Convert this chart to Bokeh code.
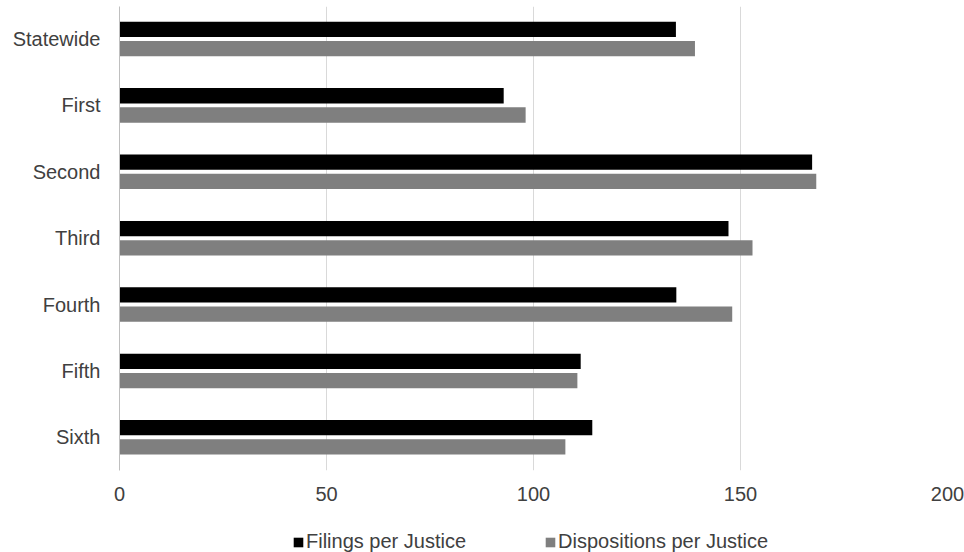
from bokeh.plotting import figure
from bokeh.layouts import column
from bokeh.models import Range1d, FixedTicker, Legend, LegendItem, ColumnDataSource
from bokeh.transform import dodge
from bokeh.embed import file_html
from bokeh.resources import INLINE

categories = ["Statewide", "First", "Second", "Third", "Fourth", "Fifth", "Sixth"]
filings = [134.4, 92.8, 167.3, 147.1, 134.5, 111.4, 114.2]
dispositions = [139.0, 98.1, 168.3, 152.9, 148.0, 110.6, 107.7]
x_ticks = [0, 50, 100, 150, 200]
series_names = ["Filings per Justice", "Dispositions per Justice"]
series_colors = ["#000000", "#7f7f7f"]

FONT = "Liberation Sans"
TEXT = "#404040"

idx = list(range(len(categories)))
src = ColumnDataSource(dict(y=idx, filings=filings, dispositions=dispositions))

fig = figure(width=964, height=515, output_backend="svg", toolbar_location=None,
             x_range=Range1d(0, 200), y_range=Range1d(6.5, -0.49),
             min_border_left=119, min_border_right=17, min_border_top=6,
             min_border_bottom=45)
fig.outline_line_color = None
fig.background_fill_color = "white"
fig.border_fill_color = "white"

bh = 0.231
off = 0.145
fig.hbar(y=dodge('y', -off, range=fig.y_range), left=0, right='filings', height=bh,
         source=src, fill_color=series_colors[0], line_color=None)
fig.hbar(y=dodge('y', off, range=fig.y_range), left=0, right='dispositions', height=bh,
         source=src, fill_color=series_colors[1], line_color=None)

xa = fig.xaxis[0]
xa.ticker = FixedTicker(ticks=x_ticks)
xa.axis_line_color = None
xa.major_tick_line_color = None
xa.minor_tick_line_color = None
xa.major_tick_out = 0
xa.major_tick_in = 0
xa.minor_tick_out = 0
xa.major_label_standoff = 16
xa.major_label_text_font = FONT
xa.major_label_text_font_size = "20px"
xa.major_label_text_color = TEXT

ya = fig.yaxis[0]
ya.ticker = FixedTicker(ticks=idx)
ya.major_label_overrides = {i: c for i, c in zip(idx, categories)}
ya.axis_line_color = "#bfbfbf"
ya.major_tick_line_color = None
ya.minor_tick_line_color = None
ya.major_tick_out = 0
ya.major_tick_in = 0
ya.minor_tick_out = 0
ya.major_label_standoff = 19
ya.major_label_text_font = FONT
ya.major_label_text_font_size = "20px"
ya.major_label_text_color = TEXT

fig.ygrid.grid_line_color = None
fig.xgrid.ticker = FixedTicker(ticks=x_ticks)
fig.xgrid.grid_line_color = "#d9d9d9"

# legend strip (its bars lie outside its visible range; only the legend shows)
leg = figure(width=964, height=37, output_backend="svg", toolbar_location=None,
             x_range=Range1d(0, 200), y_range=Range1d(100, 101),
             x_axis_location=None, y_axis_location=None, min_border=0)
leg.outline_line_color = None
leg.xgrid.grid_line_color = None
leg.ygrid.grid_line_color = None
lr1 = leg.hbar(y='y', left=0, right='filings', height=bh, source=src,
               fill_color=series_colors[0], line_color=None)
lr2 = leg.hbar(y='y', left=0, right='dispositions', height=bh, source=src,
               fill_color=series_colors[1], line_color=None)

legend = Legend(items=[LegendItem(label=series_names[0], renderers=[lr1]),
                       LegendItem(label=series_names[1], renderers=[lr2])],
                location=(173, -1), orientation="horizontal",
                border_line_color=None, background_fill_alpha=0,
                padding=0, margin=0, spacing=78,
                glyph_width=12, glyph_height=12, label_standoff=2,
                label_height=20,
                label_text_font=FONT, label_text_font_size="20px",
                label_text_color=TEXT)
leg.add_layout(legend, "center")

p = column(fig, leg, spacing=0)

open("out.html", "w").write(file_html(p, INLINE))
